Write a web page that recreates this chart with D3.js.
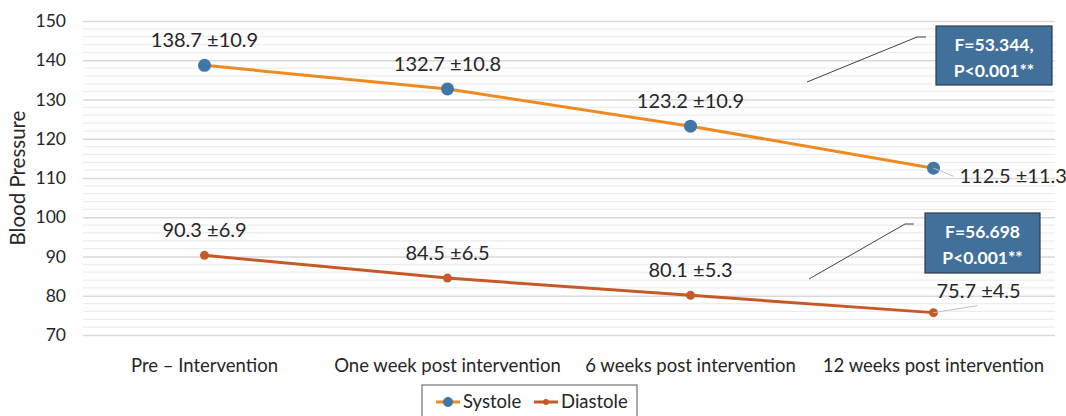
<!DOCTYPE html>
<html>
<head>
<meta charset="utf-8">
<script src="https://cdn.jsdelivr.net/npm/d3@7"></script>
<style>
  body { margin: 0; background: #fff; }
  text { font-family: Lato, "Open Sans", sans-serif; fill: #262626; }
</style>
</head>
<body>
<div id="chart"></div>
<script>
'use strict'

// data
const categories = ['Pre \u2013 Intervention', 'One week post intervention', '6 weeks post intervention', '12 weeks post intervention'];
const systole = [138.7, 132.7, 123.2, 112.5];
const systoleSD = [10.9, 10.8, 10.9, 11.3];
const diastole = [90.3, 84.5, 80.1, 75.7];
const diastoleSD = [6.9, 6.5, 5.3, 4.5];
const yTicks = [70, 80, 90, 100, 110, 120, 130, 140, 150];
const statsText = [['F=53.344,', 'P<0.001**'], ['F=56.698', 'P<0.001**']];

const width = 1066;
const height = 416;
const margin = { top: 21, right: 11, bottom: 81, left: 83 };

const svg = d3.select('#chart')
  .append('svg')
    .attr('width', width)
    .attr('height', height);

const x = d3.scalePoint()
  .domain(categories)
  .range([margin.left, width - margin.right])
  .padding(0.5);

const y = d3.scaleLinear()
  .domain([70, 150])
  .range([height - margin.bottom, margin.top]);

// gridlines, minor every 2, major every 10
const minor = d3.range(70, 151, 2).filter(v => v % 10 !== 0);
svg.append('g')
  .selectAll('line')
  .data(minor)
  .enter()
  .append('line')
    .attr('x1', margin.left)
    .attr('x2', width - margin.right)
    .attr('y1', d => y(d))
    .attr('y2', d => y(d))
    .attr('stroke', '#ededed')
    .attr('stroke-width', 1.2);

const yAxis = svg.append('g')
  .attr('transform', 'translate(' + margin.left + ',0)')
  .call(d3.axisLeft(y).tickValues(yTicks).tickSize(-(width - margin.left - margin.right)).tickPadding(17));
yAxis.select('.domain').remove();
yAxis.selectAll('line').attr('stroke', '#d9d9d9').attr('stroke-width', 1.3);
yAxis.selectAll('text')
  .style('font-size', '17.5px')
  .style('font-family', 'Lato, sans-serif')
  .attr('fill', '#262626');

// x axis labels
svg.append('g')
  .selectAll('text')
  .data(categories)
  .enter()
  .append('text')
    .attr('x', d => x(d))
    .attr('y', 372)
    .attr('text-anchor', 'middle')
    .style('font-size', '18.5px')
    .text(d => d);

svg.append('text')
  .attr('transform', 'translate(25,' + ((margin.top + height - margin.bottom) / 2) + ') rotate(-90)')
  .attr('text-anchor', 'middle')
  .style('font-size', '20.5px')
  .text('Blood Pressure');

const line = d3.line()
  .x((d, i) => x(categories[i]))
  .y(d => y(d));

// series
const series = [
  { name: 'Systole', values: systole, sd: systoleSD, lineColor: '#ED8B22', dotColor: '#3F77A6', r: 6.5 },
  { name: 'Diastole', values: diastole, sd: diastoleSD, lineColor: '#C55A28', dotColor: '#C55A28', r: 4.5 }
];

series.forEach(s => {
  svg.append('path')
    .datum(s.values)
    .attr('d', line)
    .attr('fill', 'none')
    .attr('stroke', s.lineColor)
    .attr('stroke-width', 3);

  svg.append('g')
    .selectAll('circle')
    .data(s.values)
    .enter()
    .append('circle')
      .attr('cx', (d, i) => x(categories[i]))
      .attr('cy', d => y(d))
      .attr('r', s.r)
      .attr('fill', s.dotColor);
});

// value labels
const fmt = (v, sd) => v.toFixed(1) + ' \u00b1' + sd.toFixed(1);
series.forEach((s, si) => {
  s.values.forEach((v, i) => {
    const px = x(categories[i]);
    const py = y(v);
    if (i < 3) {
      svg.append('text')
        .attr('x', px)
        .attr('y', py - 18)
        .attr('text-anchor', 'middle')
        .style('font-size', '20px')
        .text(fmt(v, s.sd[i]));
    } else if (si === 0) {
      svg.append('path')
        .attr('d', 'M' + px + ',' + py + 'L' + (px + 20) + ',' + (py + 8))
        .attr('stroke', '#bfbfbf').attr('fill', 'none');
      svg.append('text')
        .attr('x', px + 26)
        .attr('y', py + 15)
        .style('font-size', '20px')
        .text(fmt(v, s.sd[i]));
    } else {
      svg.append('path')
        .attr('d', 'M' + px + ',' + py + 'L' + (px + 44) + ',' + (py - 7))
        .attr('stroke', '#bfbfbf').attr('fill', 'none');
      svg.append('text')
        .attr('x', px + 3)
        .attr('y', py - 15)
        .style('font-size', '20px')
        .text(fmt(v, s.sd[i]));
    }
  });
});

// stat callouts
const boxes = [
  { x: 936, y: 26, w: 116, h: 59, path: 'M807,82L917,37L926,37' },
  { x: 925, y: 213, w: 115, h: 60, path: 'M809,279L905,224L914,224' }
];
boxes.forEach((b, i) => {
  svg.append('path')
    .attr('d', b.path)
    .attr('fill', 'none')
    .attr('stroke', '#404040')
    .attr('stroke-width', 1);
  svg.append('rect')
    .attr('x', b.x).attr('y', b.y)
    .attr('width', b.w).attr('height', b.h)
    .attr('fill', '#41709B')
    .attr('stroke', '#2a3a4a')
    .attr('stroke-width', 1.2);
  statsText[i].forEach((t, j) => {
    svg.append('text')
      .attr('x', b.x + b.w / 2)
      .attr('y', b.y + 25 + j * 26)
      .attr('text-anchor', 'middle')
      .style('font-size', '17.5px')
      .style('font-weight', 'bold')
      .style('fill', '#fff')
      .text(t);
  });
});

// legend
const legend = svg.append('g').attr('transform', 'translate(422,385)');
legend.append('rect')
  .attr('width', 215).attr('height', 40)
  .attr('fill', '#fff')
  .attr('stroke', '#595959')
  .attr('stroke-width', 1);
const legX = [14, 112];
series.forEach((s, i) => {
  const g = legend.append('g').attr('transform', 'translate(' + legX[i] + ',17)');
  g.append('line')
    .attr('x1', 0).attr('x2', 24)
    .attr('stroke', s.lineColor).attr('stroke-width', 3);
  g.append('circle')
    .attr('cx', 12).attr('r', s.r - 1.5)
    .attr('fill', s.dotColor);
  g.append('text')
    .attr('x', 27).attr('y', 6)
    .style('font-size', '18.5px')
    .text(s.name);
});
</script>
</body>
</html>
